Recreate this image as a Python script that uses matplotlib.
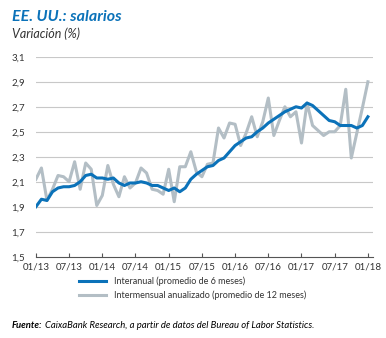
import matplotlib
matplotlib.use("Agg")
import matplotlib.pyplot as plt

# monthly data, 01/13 .. 01/18
interanual = [1.90, 1.96, 1.95, 2.02, 2.05, 2.06, 2.06, 2.07, 2.10, 2.15,
              2.16, 2.13, 2.13, 2.12, 2.13, 2.09, 2.07, 2.09, 2.09, 2.10,
              2.09, 2.07, 2.07, 2.05, 2.03, 2.05, 2.02, 2.05, 2.12, 2.16,
              2.19, 2.22, 2.23, 2.27, 2.29, 2.34, 2.39, 2.42, 2.45, 2.46,
              2.50, 2.53, 2.57, 2.60, 2.63, 2.66, 2.68, 2.70, 2.69, 2.73,
              2.71, 2.67, 2.63, 2.59, 2.58, 2.55, 2.55, 2.55, 2.53, 2.55,
              2.62]
intermensual = [2.12, 2.21, 1.95, 2.04, 2.15, 2.14, 2.10, 2.26, 2.04, 2.25,
                2.20, 1.91, 1.99, 2.23, 2.08, 1.98, 2.14, 2.05, 2.09, 2.21,
                2.17, 2.04, 2.03, 2.00, 2.20, 1.94, 2.22, 2.22, 2.34, 2.18,
                2.14, 2.24, 2.25, 2.53, 2.45, 2.57, 2.56, 2.39, 2.49, 2.62,
                2.46, 2.58, 2.77, 2.47, 2.59, 2.70, 2.62, 2.66, 2.41, 2.73,
                2.55, 2.51, 2.47, 2.50, 2.50, 2.55, 2.84, 2.29, 2.49, 2.69,
                2.90]
xticklabels = ["01/13", "07/13", "01/14", "07/14", "01/15", "07/15",
               "01/16", "07/16", "01/17", "07/17", "01/18"]
yticks = [1.5, 1.7, 1.9, 2.1, 2.3, 2.5, 2.7, 2.9, 3.1]

blue = "#0b72b9"
grey = "#b3bec5"
txt = "#333333"

plt.rcParams['font.family'] = ['Lato', 'DejaVu Sans']

fig = plt.figure(figsize=(3.86, 3.38), dpi=100)
ax = fig.add_axes([0.093, 0.2405, 0.873, 0.5915])

months = list(range(len(interanual)))
ax.plot(months, intermensual, color=grey, lw=2.2,
        label="Intermensual anualizado (promedio de 12 meses)", zorder=2)
ax.plot(months, interanual, color=blue, lw=2.2,
        label="Interanual (promedio de 6 meses)", zorder=3)

ax.set_ylim(1.5, 3.1)
ax.set_xlim(0, 60.9)
ax.set_yticks(yticks)
ax.set_yticklabels([f"{v:.1f}".replace(".", ",") for v in yticks])
ax.set_xticks(range(0, 61, 6))
ax.set_xticklabels(xticklabels)
for v in yticks[1:]:
    ax.axhline(v, color="#c8c8c8", lw=0.8, zorder=1)

for s in ["top", "right", "left"]:
    ax.spines[s].set_visible(False)
ax.spines["bottom"].set_color("#555555")
ax.spines["bottom"].set_linewidth(0.8)
ax.tick_params(axis="y", length=0, labelsize=7, labelcolor=txt, pad=8)
ax.tick_params(axis="x", direction="in", length=3, color="#555555",
               labelsize=7, labelcolor=txt, pad=4)

h, l = ax.get_legend_handles_labels()
fig.legend(h[::-1], l[::-1], loc="center", bbox_to_anchor=(0.50, 0.147),
           ncol=1, frameon=False, fontsize=6.5, handlelength=3.0,
           handletextpad=0.9, labelspacing=0.55, labelcolor=txt)

fig.text(0.031, 0.95, "EE. UU.: salarios", color=blue, fontsize=11.5,
         fontweight="bold", style="italic", va="center")
fig.text(0.031, 0.899, "Variación (%)", color=txt, fontsize=9,
         style="italic", va="center")
t1 = fig.text(0.031, 0.03, "Fuente:", color="black", fontsize=6.8,
              fontweight="bold", style="italic", va="baseline")
ax.annotate("CaixaBank Research, a partir de datos del Bureau of Labor Statistics.",
            xy=(1, 0), xycoords=t1, xytext=(2, 0), textcoords="offset points",
            color="black", fontsize=6.8, style="italic", va="bottom",
            annotation_clip=False)

fig.savefig("out.png", dpi=100)
